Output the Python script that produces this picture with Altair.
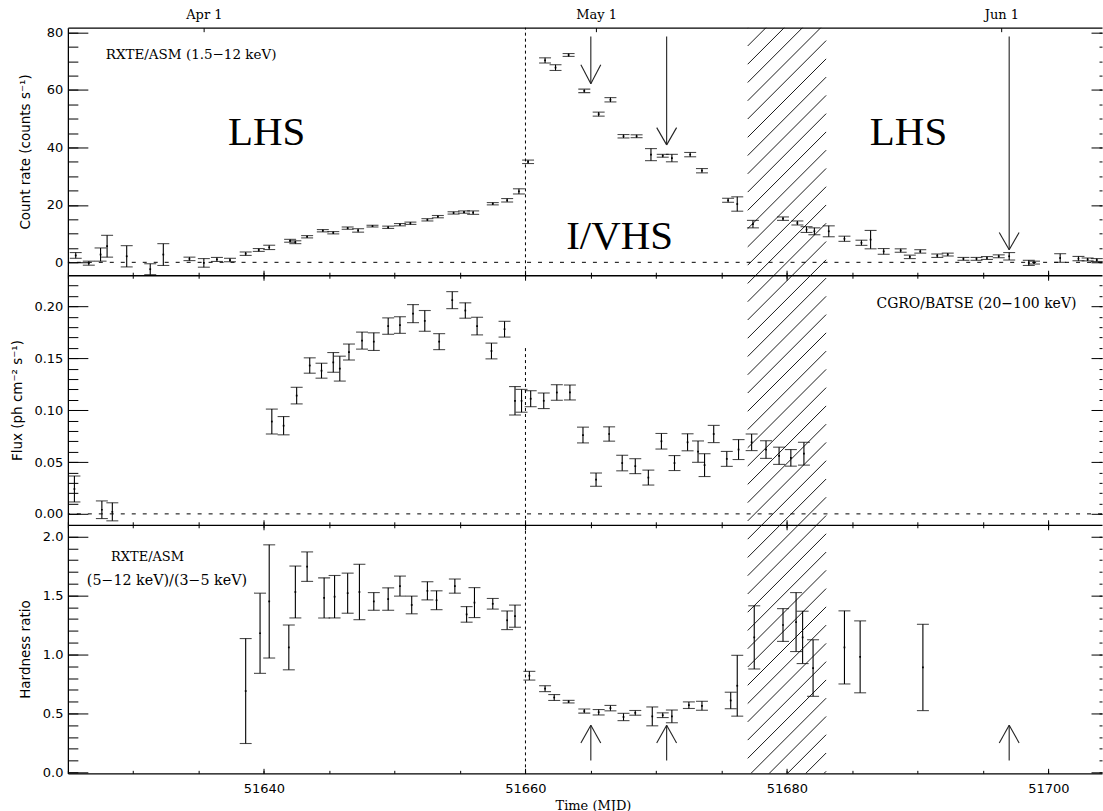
import altair as alt
import pandas as pd

# ---------------- data ----------------
# RXTE/ASM count rate (1.5-12 keV)
asm_mjd = [51625.6, 51626.6, 51627.5, 51628.0, 51629.5, 51631.3, 51632.3, 51634.3, 51635.4, 51636.4,
           51637.4, 51638.6, 51639.6, 51640.4, 51642.0, 51642.4, 51643.3, 51644.5, 51645.3, 51646.4,
           51647.2, 51648.3, 51649.5, 51650.4, 51651.2, 51652.5, 51653.3, 51654.5, 51655.3, 51656.0,
           51657.5, 51658.6, 51659.5, 51660.2, 51661.5, 51662.3, 51663.3, 51664.5, 51665.6, 51666.5,
           51667.5, 51668.5, 51669.6, 51670.5, 51671.2, 51672.6, 51673.5, 51675.5, 51676.2, 51677.4,
           51679.7, 51680.8, 51681.5, 51682.1, 51683.2, 51684.4, 51685.7, 51686.4, 51687.4, 51688.7,
           51689.4, 51690.2, 51691.5, 51692.3, 51693.5, 51694.5, 51695.3, 51696.2, 51697.0, 51698.5,
           51698.9, 51700.9, 51702.3, 51703.0, 51703.7]
asm_rate = [2.4, -0.3, 2.7, 5.6, 2.1, -2.4, 2.7, 1.2, -0.2, 1.0,
            0.8, 3.0, 4.3, 5.2, 7.5, 7.0, 8.9, 11.0, 10.3, 11.9,
            11.1, 12.6, 12.2, 13.1, 13.6, 14.8, 15.9, 17.2, 17.5, 17.3,
            20.4, 21.6, 24.7, 35.0, 70.3, 67.8, 72.2, 59.7, 51.6, 56.6,
            43.9, 43.9, 37.5, 37.1, 36.3, 37.5, 31.9, 21.6, 20.3, 13.3,
            15.2, 13.7, 11.4, 10.8, 10.8, 8.2, 6.8, 7.9, 3.8, 4.1,
            1.9, 3.8, 2.3, 2.7, 1.2, 1.2, 1.5, 2.1, 2.1, -0.2,
            -0.1, 1.5, 1.3, 1.0, 0.8]
asm_err = [1.0, 0.7, 2.3, 3.8, 3.7, 1.9, 3.8, 0.6, 1.5, 0.7,
           0.6, 0.6, 0.5, 0.75, 0.5, 0.5, 0.4, 0.4, 0.4, 0.4,
           0.6, 0.3, 0.4, 0.4, 0.4, 0.4, 0.4, 0.4, 0.4, 0.6,
           0.4, 0.6, 0.9, 0.6, 0.9, 1.0, 0.5, 0.6, 0.7, 0.75,
           0.6, 0.5, 2.1, 0.5, 1.3, 0.75, 0.75, 0.7, 2.5, 1.3,
           0.6, 0.7, 1.0, 1.2, 1.9, 0.9, 0.9, 3.2, 1.0, 0.6,
           0.6, 0.6, 0.6, 0.5, 0.5, 0.5, 0.5, 0.5, 1.3, 0.9,
           0.5, 1.5, 0.75, 0.5, 0.5]

# CGRO/BATSE flux (20-100 keV)
batse_mjd = [51625.5, 51627.6, 51628.4, 51640.6, 51641.5, 51642.5, 51643.5, 51644.4, 51645.3, 51645.8,
             51646.5, 51647.5, 51648.4, 51649.5, 51650.4, 51651.4, 51652.3, 51653.4, 51654.4, 51655.4,
             51656.3, 51657.4, 51658.4, 51659.2, 51659.7, 51660.4, 51661.4, 51662.4, 51663.4, 51664.4,
             51665.4, 51666.4, 51667.4, 51668.4, 51669.4, 51670.4, 51671.4, 51672.4, 51673.2, 51673.7,
             51674.4, 51675.4, 51676.3, 51677.3, 51678.4, 51679.4, 51680.3, 51681.3]
batse_flux = [0.024, 0.004, 0.002, 0.089, 0.085, 0.114, 0.143, 0.138, 0.146, 0.140,
              0.156, 0.167, 0.166, 0.181, 0.182, 0.193, 0.186, 0.166, 0.206, 0.196,
              0.181, 0.157, 0.178, 0.109, 0.109, 0.111, 0.109, 0.117, 0.117, 0.076,
              0.033, 0.077, 0.049, 0.046, 0.035, 0.070, 0.049, 0.069, 0.060, 0.047,
              0.077, 0.053, 0.062, 0.069, 0.062, 0.056, 0.054, 0.058]
batse_err = [0.0125, 0.0085, 0.0087, 0.012, 0.0088, 0.008, 0.0074, 0.0072, 0.0095, 0.012,
             0.0077, 0.0082, 0.0085, 0.0079, 0.008, 0.0087, 0.010, 0.0077, 0.0082, 0.0074,
             0.0085, 0.0076, 0.0076, 0.0137, 0.011, 0.0077, 0.0075, 0.0075, 0.0072, 0.0076,
             0.0064, 0.0069, 0.0075, 0.0072, 0.0072, 0.0075, 0.0072, 0.0082, 0.0103, 0.011,
             0.0083, 0.0072, 0.0096, 0.008, 0.0085, 0.0083, 0.008, 0.011]

# RXTE/ASM hardness ratio (5-12 keV)/(3-5 keV)
hr_mjd = [51638.6, 51639.7, 51640.4, 51641.9, 51642.4, 51643.3, 51644.6, 51645.4, 51646.4, 51647.3,
          51648.4, 51649.5, 51650.4, 51651.3, 51652.5, 51653.2, 51654.6, 51655.5, 51656.1, 51657.5,
          51658.6, 51659.2, 51660.3, 51661.5, 51662.2, 51663.3, 51664.5, 51665.6, 51666.5, 51667.5,
          51668.4, 51669.7, 51670.5, 51671.2, 51672.5, 51673.5, 51675.7, 51676.2, 51677.5, 51679.7,
          51680.7, 51681.2, 51682.0, 51684.4, 51685.6, 51690.4]
hr_val = [0.69, 1.18, 1.45, 1.06, 1.53, 1.745, 1.48, 1.49, 1.52, 1.53,
          1.45, 1.47, 1.58, 1.42, 1.54, 1.46, 1.58, 1.34, 1.44, 1.43,
          1.29, 1.325, 0.82, 0.71, 0.635, 0.60, 0.52, 0.51, 0.545, 0.47,
          0.505, 0.475, 0.485, 0.475, 0.57, 0.565, 0.61, 0.735, 1.145, 1.25,
          1.275, 1.145, 0.885, 1.06, 0.98, 0.89]
hr_err = [0.445, 0.34, 0.48, 0.19, 0.22, 0.125, 0.17, 0.18, 0.17, 0.235,
          0.075, 0.095, 0.085, 0.075, 0.077, 0.08, 0.06, 0.066, 0.127, 0.045,
          0.079, 0.094, 0.037, 0.025, 0.025, 0.011, 0.017, 0.023, 0.023, 0.031,
          0.02, 0.08, 0.02, 0.054, 0.028, 0.038, 0.07, 0.258, 0.268, 0.139,
          0.25, 0.222, 0.24, 0.31, 0.305, 0.366]

# annotations
transition_mjd = 51660
batse_line_top = 0.16
hatch_range = [51677.0, 51683.0]
arrow_mjd = [51665.0, 51670.8, 51697.0]
top_arrow_start = 78.6
top_arrow_tip = [62.2, 40.9, 4.4]
top_arrow_head = [68.8, 46.9, 10.4]
bot_arrow_start = 0.10
bot_arrow_tip = 0.40
bot_arrow_head = 0.25
arrow_half_width = 0.76

date_ticks = [51635.4, 51665.4, 51696.4]
date_labels = ["Apr 1", "May 1", "Jun 1"]
x_major = [51640, 51660, 51680, 51700]
x_minor = list(range(51625, 51705, 5))

top_major = [0, 20, 40, 60, 80]
top_minor = list(range(0, 81, 5))
mid_major = [0.0, 0.05, 0.10, 0.15, 0.20]
mid_minor = [i / 100 for i in range(0, 23)]
bot_major = [0.0, 0.5, 1.0, 1.5, 2.0]
bot_minor = [i / 10 for i in range(0, 21)]

top_texts = pd.DataFrame({"x": [51627.9], "y": [72.3], "t": ["RXTE/ASM (1.5\u221212 keV)"]})
state_texts = pd.DataFrame({"x": [51640.2, 51667.2, 51689.3], "y": [41.0, 4.5, 41.0],
                            "t": ["LHS", "I/VHS", "LHS"]})
mid_texts = pd.DataFrame({"x": [51686.85], "y": [0.2021], "t": ["CGRO/BATSE (20\u2212100 keV)"]})
bot_text1 = pd.DataFrame({"x": [51628.3], "y": [1.83], "t": ["RXTE/ASM"]})
bot_text2 = pd.DataFrame({"x": [51626.45], "y": [1.62], "t": ["(5\u221212 keV)/(3\u22125 keV)"]})

# ---------------- layout ----------------
X0, X1 = 51625.0, 51704.1
W = 1036
B = [0, 248, 498, 747]          # panel boundaries (pixels from top of plot area)
HT = B[-1]
TOP_DOM = [-4.5, 81.7]
MID_DOM = [-0.0105, 0.23]
BOT_DOM = [-0.008, 2.1]
HATCH_SPACING = 18.3

xs = alt.Scale(domain=[X0, X1], nice=False, zero=False)


def yscale(dom, i):
    return alt.Scale(domain=dom, range=[B[i + 1], B[i]], nice=False, zero=False)


def x_axis_layer(vals, orient, size, offset, **kw):
    ax = dict(orient=orient, values=vals, tickSize=size, offset=offset, domain=False,
              labels=False, title=None, grid=False, tickColor="black", tickWidth=1,
              domainColor="black", domainWidth=1.3)
    ax.update(kw)
    return alt.Chart(pd.DataFrame({"t": vals})).mark_rule(opacity=0).encode(
        x=alt.X("t:Q", scale=xs, axis=alt.Axis(**ax)))


def y_axis_layer(vals, ys, orient, size, offset, **kw):
    ax = dict(orient=orient, values=vals, tickSize=size, offset=offset, domain=False,
              labels=False, title=None, grid=False, tickColor="black", tickWidth=1,
              domainColor="black", domainWidth=1.3)
    ax.update(kw)
    return alt.Chart(pd.DataFrame({"t": vals})).mark_rule(opacity=0).encode(
        y=alt.Y("t:Q", scale=ys, axis=alt.Axis(**ax)))


def error_layers(mjd, val, err, ys):
    df = pd.DataFrame({"x": mjd, "v": val, "e": err})
    base = alt.Chart(df).transform_calculate(lo="datum.v - datum.e", hi="datum.v + datum.e")
    xe = alt.X("x:Q", scale=xs, axis=None)
    bars = base.mark_rule(color="black", strokeWidth=1.1).encode(
        x=xe, y=alt.Y("lo:Q", scale=ys, axis=None), y2="hi:Q")
    cap_lo = base.mark_tick(orient="horizontal", size=12, thickness=1.1, color="black").encode(
        x=xe, y=alt.Y("lo:Q", scale=ys, axis=None))
    cap_hi = base.mark_tick(orient="horizontal", size=12, thickness=1.1, color="black").encode(
        x=xe, y=alt.Y("hi:Q", scale=ys, axis=None))
    dots = base.mark_square(size=3, color="black", opacity=1).encode(
        x=xe, y=alt.Y("v:Q", scale=ys, axis=None))
    return [bars, cap_lo, cap_hi, dots]


def y_axes(ys, ymaj, ymin, yfmt, ytitle, tpad):
    return [
        y_axis_layer(ymaj, ys, "left", 20, -20, labels=True, format=yfmt, labelPadding=5,
                     title=ytitle, titlePadding=tpad),
        y_axis_layer(ymin, ys, "left", 10, -10),
        y_axis_layer(ymaj, ys, "left", 0, 0, ticks=False, domain=True),
        y_axis_layer(ymaj, ys, "right", 11, -11),
        y_axis_layer(ymin, ys, "right", 3, -3),
    ]


def zero_line(ys):
    return alt.Chart(pd.DataFrame({"y": [0.0]})).mark_rule(
        color="black", strokeWidth=1, strokeDash=[4, 7]).encode(y=alt.Y("y:Q", scale=ys, axis=None))


def vline(ys, y_from, y_to):
    return alt.Chart(pd.DataFrame({"x": [transition_mjd], "y": [y_from], "y2": [y_to]})).mark_rule(
        color="black", strokeWidth=1, strokeDash=[3, 3]).encode(
        x=alt.X("x:Q", scale=xs, axis=None), y=alt.Y("y:Q", scale=ys, axis=None), y2="y2:Q")


def arrows(ys, starts, heads, tips):
    rows = []
    for x, s, h, t in zip(arrow_mjd, starts, heads, tips):
        rows.append({"x": x, "x2": x, "y": s, "y2": t})
        rows.append({"x": x - arrow_half_width, "x2": x, "y": h, "y2": t})
        rows.append({"x": x + arrow_half_width, "x2": x, "y": h, "y2": t})
    return alt.Chart(pd.DataFrame(rows)).mark_rule(color="#222222", strokeWidth=1.1).encode(
        x=alt.X("x:Q", scale=xs, axis=None), x2="x2:Q",
        y=alt.Y("y:Q", scale=ys, axis=None), y2="y2:Q")


def texts(df, ys, font, size):
    return alt.Chart(df).mark_text(align="left", baseline="middle", font=font, fontSize=size,
                                   color="black").encode(
        x=alt.X("x:Q", scale=xs, axis=None), y=alt.Y("y:Q", scale=ys, axis=None), text="t:N")


def state_text(ys):
    return alt.Chart(state_texts).mark_text(align="center", baseline="alphabetic", font="Liberation Serif",
                                            fontSize=41, color="black").encode(
        x=alt.X("x:Q", scale=xs, axis=None), y=alt.Y("y:Q", scale=ys, axis=None), text="t:N")


# hatched interval (diagonal lines at 45 degrees, drawn in plot-area pixel rows)
ppx = W / (X1 - X0)
rise = (hatch_range[1] - hatch_range[0]) * ppx
hrows = []
k = 0
while k * HATCH_SPACING < HT + rise + HATCH_SPACING:
    y0 = k * HATCH_SPACING
    hrows.append({"x": hatch_range[0], "x2": hatch_range[1], "y": y0, "y2": y0 - rise})
    k += 1
hatch_scale = alt.Scale(domain=[0, HT], range=[0, HT], nice=False, zero=False)
hatch = alt.Chart(pd.DataFrame(hrows)).mark_rule(color="black", strokeWidth=0.9, clip=True).encode(
    x=alt.X("x:Q", scale=xs, axis=None), x2="x2:Q",
    y=alt.Y("y:Q", scale=hatch_scale, axis=None), y2="y2:Q")

ys_top = yscale(TOP_DOM, 0)
ys_mid = yscale(MID_DOM, 1)
ys_bot = yscale(BOT_DOM, 2)

layers = [hatch]
# top panel
layers += [zero_line(ys_top), vline(ys_top, TOP_DOM[0], TOP_DOM[1]),
           arrows(ys_top, [top_arrow_start] * 3, top_arrow_head, top_arrow_tip),
           texts(top_texts, ys_top, "DejaVu Serif", 13.5), state_text(ys_top)]
layers += error_layers(asm_mjd, asm_rate, asm_err, ys_top)
layers += y_axes(ys_top, top_major, top_minor, "d", "Count rate (counts s\u207b\u00b9)", 14)
# middle panel
layers += [zero_line(ys_mid), vline(ys_mid, MID_DOM[0], batse_line_top),
           texts(mid_texts, ys_mid, "DejaVu Serif", 14)]
layers += error_layers(batse_mjd, batse_flux, batse_err, ys_mid)
layers += y_axes(ys_mid, mid_major, mid_minor, ".2f", "Flux (ph cm\u207b\u00b2 s\u207b\u00b9)", 10)
# bottom panel
layers += [vline(ys_bot, BOT_DOM[0], BOT_DOM[1]),
           arrows(ys_bot, [bot_arrow_start] * 3, [bot_arrow_head] * 3, [bot_arrow_tip] * 3),
           texts(bot_text1, ys_bot, "DejaVu Serif", 13), texts(bot_text2, ys_bot, "DejaVu Serif", 14.3)]
layers += error_layers(hr_mjd, hr_val, hr_err, ys_bot)
layers += y_axes(ys_bot, bot_major, bot_minor, ".1f", "Hardness ratio", 10)

# x axes: top date axis + frame, inward ticks on every panel edge
expr = "'" + date_labels[-1] + "'"
for v, lab in reversed(list(zip(date_ticks[:-1], date_labels[:-1]))):
    expr = f"abs(datum.value - {v}) < 0.01 ? '{lab}' : " + expr
layers.append(x_axis_layer(date_ticks, "top", 4, -4, labels=True, labelExpr=expr, labelPadding=6,
                           labelFont="DejaVu Serif", labelFontSize=13, labelFlush=False,
                           labelOverlap=False))
layers.append(x_axis_layer(x_major, "top", 0, 0, ticks=False, domain=True))
for b in B[1:-1]:
    layers.append(x_axis_layer(x_major, "bottom", 5, b - 5 - HT))
    layers.append(x_axis_layer(x_minor, "bottom", 3, b - 3 - HT))
    layers.append(x_axis_layer(x_major, "bottom", 5, b - HT, domain=True))
    layers.append(x_axis_layer(x_minor, "bottom", 3, b - HT))
layers.append(x_axis_layer(x_major, "bottom", 5, -5, labels=True, labelPadding=9, format="d",
                           labelFlush=False, labelOverlap=False, title="Time (MJD)",
                           titleFont="DejaVu Serif", titleFontSize=13, titlePadding=4, titleX=526))
layers.append(x_axis_layer(x_minor, "bottom", 3, -3))
layers.append(x_axis_layer(x_major, "bottom", 0, 0, ticks=False, domain=True))

chart = alt.layer(*layers).properties(
    width=W, height=HT,
    padding={"left": 10, "top": 8, "right": 0, "bottom": 0},
    background="white",
).resolve_scale(y="independent").resolve_axis(x="independent", y="independent").configure_view(
    strokeWidth=0
).configure_axis(
    labelFont="DejaVu Sans", labelFontSize=13, labelColor="black",
    titleFont="DejaVu Sans", titleFontSize=13.5, titleFontWeight="normal", titleColor="black",
)

chart.save("out.html", embed_options={"renderer": "svg", "actions": False})
